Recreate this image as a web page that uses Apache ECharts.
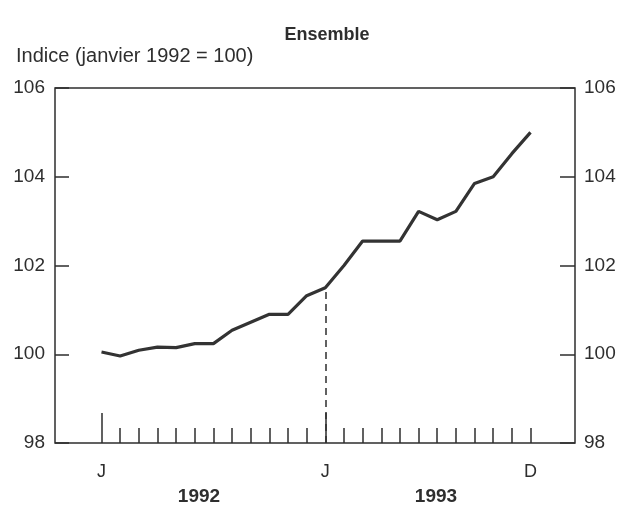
<!DOCTYPE html>
<html>
<head>
<meta charset="utf-8">
<script src="https://cdn.jsdelivr.net/npm/echarts@6/dist/echarts.min.js"></script>
<style>
  html, body { margin: 0; padding: 0; background: #fff; }
  #chart { width: 624px; height: 507px; }
</style>
</head>
<body>
<div id="chart"></div>
<script>
// mois de janvier 1992 à décembre 1993
var months = ['1992-01','1992-02','1992-03','1992-04','1992-05','1992-06',
              '1992-07','1992-08','1992-09','1992-10','1992-11','1992-12',
              '1993-01','1993-02','1993-03','1993-04','1993-05','1993-06',
              '1993-07','1993-08','1993-09','1993-10','1993-11','1993-12'];
// indice (janvier 1992 = 100)
var ensemble = [100.05, 99.96, 100.09, 100.16, 100.15, 100.24,
                100.24, 100.54, 100.72, 100.9, 100.9, 101.32,
                101.5, 102.0, 102.55, 102.55, 102.55, 103.22,
                103.03, 103.22, 103.85, 104.0, 104.52, 105.0];
var monthLabels = { 0: 'J', 12: 'J', 23: 'D' };
var yearLabels = ['1992', '1993'];

var ink = '#2e2e2e';
var fontFam = 'Liberation Sans, Arial, sans-serif';
var chartDom = document.getElementById('chart');
var myChart = echarts.init(chartDom);
var option;

option = {
  backgroundColor: '#fff',
  animation: false,
  textStyle: { fontFamily: fontFam, color: ink },
  title: [
    {
      text: 'Ensemble',
      left: 322, top: 21, textAlign: 'center',
      textStyle: { fontSize: 18, fontWeight: 'bold', color: ink }
    },
    {
      text: 'Indice (janvier 1992 = 100)',
      left: 11, top: 41,
      textStyle: { fontSize: 20, fontWeight: 'normal', color: ink }
    }
  ],
  grid: [
    // cadre
    { left: 55, right: 49, top: 88, bottom: 64, show: true, borderColor: ink, borderWidth: 1.5 },
    // données
    { left: 101.5, right: 93.5, top: 88, bottom: 64 }
  ],
  xAxis: [
    { gridIndex: 0, type: 'value', min: 0, max: 1, show: false },
    {
      gridIndex: 1, type: 'category', data: months, boundaryGap: false,
      axisLine: { show: false },
      axisTick: { show: true, inside: true, length: 15, interval: 0, lineStyle: { color: ink, width: 1.5 } },
      axisLabel: {
        interval: 0, margin: 20, fontSize: 18, color: ink,
        formatter: function (v, i) { return monthLabels[i] || ''; }
      }
    },
    {
      gridIndex: 1, type: 'category', data: months, boundaryGap: false, position: 'bottom', offset: 0,
      axisLine: { show: false },
      axisTick: {
        show: true, inside: true, length: 30,
        interval: function (i) { return i === 0 || i === 12; },
        lineStyle: { color: ink, width: 1.5 }
      },
      axisLabel: { show: false }
    }
  ],
  yAxis: [
    {
      gridIndex: 0, type: 'value', min: 98, max: 106, interval: 2, position: 'left',
      axisLine: { show: false }, splitLine: { show: false },
      axisTick: { show: true, inside: true, length: 14, lineStyle: { color: ink, width: 1.5 } },
      axisLabel: { margin: 10, fontSize: 19, color: ink }
    },
    {
      gridIndex: 0, type: 'value', min: 98, max: 106, interval: 2, position: 'right',
      axisLine: { show: false }, splitLine: { show: false },
      axisTick: { show: true, inside: true, length: 15, lineStyle: { color: ink, width: 1.5 } },
      axisLabel: { margin: 9, fontSize: 19, color: ink }
    },
    { gridIndex: 1, type: 'value', min: 98, max: 106, show: false }
  ],
  series: [
    {
      name: 'Ensemble',
      type: 'line',
      xAxisIndex: 1,
      yAxisIndex: 2,
      data: ensemble,
      symbol: 'none',
      lineStyle: { color: '#333', width: 3.2 },
      markLine: {
        silent: true,
        symbol: ['none', 'none'],
        label: { show: false },
        lineStyle: { color: ink, type: [7, 5], width: 1.5 },
        data: [[
          { coord: [months[12], 98] },
          { coord: [months[12], ensemble[12]] }
        ]]
      }
    }
  ],
  graphic: [
    { type: 'text', x: 199, y: 487, style: { text: yearLabels[0], align: 'center', fill: ink, font: 'bold 19px ' + fontFam } },
    { type: 'text', x: 436, y: 487, style: { text: yearLabels[1], align: 'center', fill: ink, font: 'bold 19px ' + fontFam } }
  ]
};
option && myChart.setOption(option);
</script>
</body>
</html>
